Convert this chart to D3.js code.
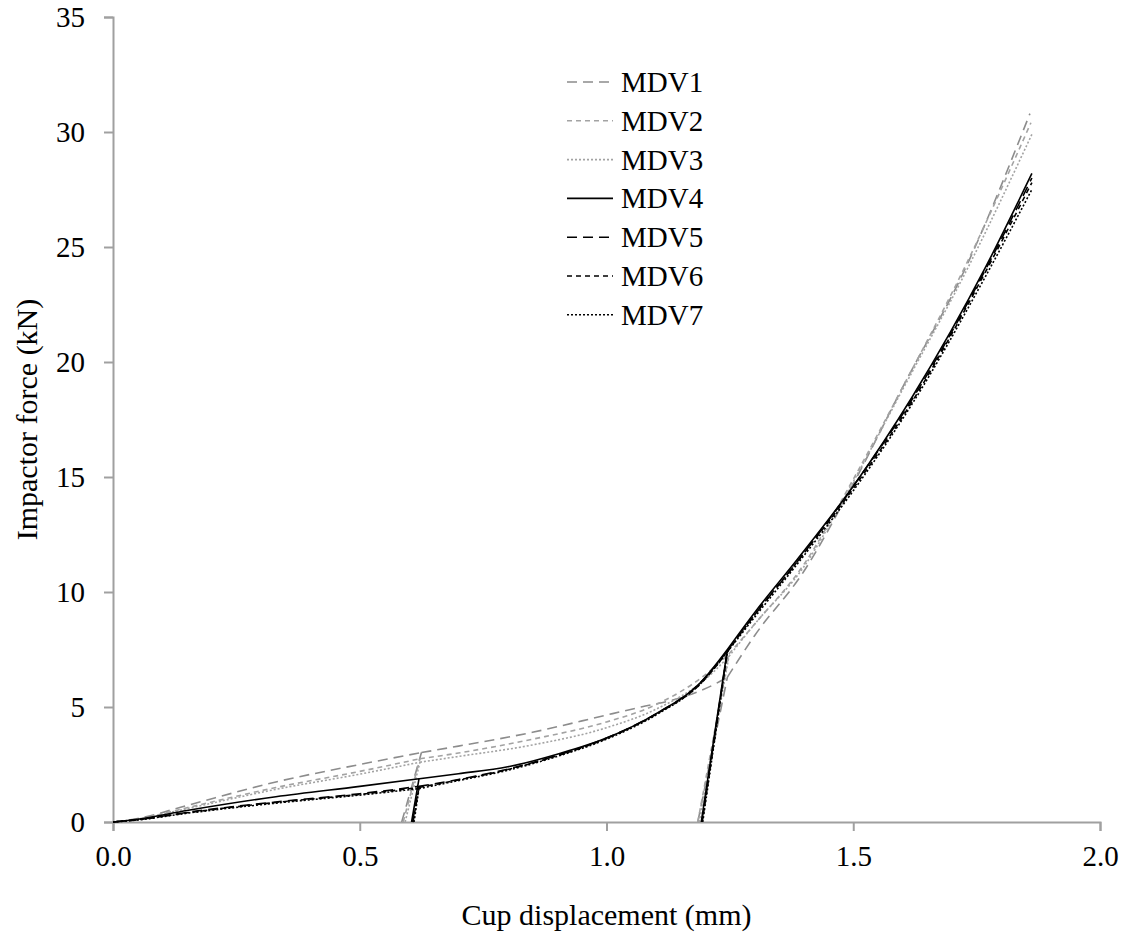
<!DOCTYPE html>
<html>
<head>
<meta charset="utf-8">
<script src="https://cdn.jsdelivr.net/npm/d3@7"></script>
<style>
	body { margin: 0; background: #fff; }
	text { font-family: "Liberation Serif", "Times New Roman", serif; fill: #000; }
</style>
</head>
<body>
<div id="chart-area"></div>
<script>
// DATA
// ****

let names = ["MDV1", "MDV2", "MDV3", "MDV4", "MDV5", "MDV6", "MDV7"]
let xTicks = [0, 0.5, 1.0, 1.5, 2.0]
let yTicks = [0, 5, 10, 15, 20, 25, 30, 35]

// null = break in the line (loading steps, and the steep reload parts)
let disp1 = [0, 0.05, 0.15, 0.33, 0.5, 0.625, null, 0.585, 0.625, null, 0.625, 0.7, 0.85, 1.0, 1.07, 1.15, 1.22, 1.245, null, 1.185, 1.245, null, 1.245, 1.3, 1.4, 1.5, 1.6, 1.73, 1.858]
let force1 = [0, 0.15, 0.72, 1.74, 2.5, 3.02, null, 0, 3.02, null, 3.02, 3.3, 3.9, 4.65, 5.0, 5.4, 6.0, 6.3, null, 0, 6.3, null, 6.3, 8.1, 10.9, 14.7, 18.9, 24.2, 30.8]

let disp2 = [0, 0.05, 0.15, 0.33, 0.5, 0.622, null, 0.588, 0.622, null, 0.622, 0.7, 0.85, 1.0, 1.1, 1.2, 1.248, null, 1.185, 1.248, null, 1.248, 1.3, 1.4, 1.5, 1.6, 1.73, 1.86]
let force2 = [0, 0.13, 0.62, 1.5, 2.2, 2.75, null, 0, 2.75, null, 2.75, 3.0, 3.6, 4.35, 5.1, 6.4, 7.3, null, 0, 7.3, null, 7.3, 8.6, 11.2, 14.9, 18.9, 24.3, 30.4]

let disp3 = [0, 0.05, 0.15, 0.33, 0.5, 0.622, null, 0.592, 0.622, null, 0.622, 0.7, 0.85, 1.0, 1.1, 1.2, 1.248, null, 1.188, 1.248, null, 1.248, 1.3, 1.4, 1.5, 1.6, 1.73, 1.862]
let force3 = [0, 0.12, 0.58, 1.42, 2.08, 2.6, null, 0, 2.6, null, 2.6, 2.85, 3.35, 4.1, 4.9, 6.2, 7.2, null, 0, 7.2, null, 7.2, 8.6, 11.1, 14.8, 18.8, 24.0, 29.9]

let disp4 = [0, 0.05, 0.15, 0.33, 0.5, 0.62, null, 0.605, 0.62, null, 0.62, 0.7, 0.8, 0.9, 1.0, 1.1, 1.19, 1.245, null, 1.192, 1.245, null, 1.245, 1.3, 1.386, 1.5, 1.62, 1.77, 1.862]
let force4 = [0, 0.12, 0.5, 1.1, 1.55, 1.88, null, 0, 1.88, null, 1.88, 2.1, 2.4, 2.95, 3.65, 4.7, 6.05, 7.5, null, 0, 7.5, null, 7.5, 9.1, 11.4, 14.6, 18.5, 24.2, 28.2]

let disp5 = [0, 0.05, 0.15, 0.33, 0.5, 0.62, null, 0.607, 0.62, null, 0.62, 0.7, 0.8, 0.9, 1.0, 1.1, 1.19, 1.245, null, 1.193, 1.245, null, 1.245, 1.3, 1.386, 1.5, 1.62, 1.77, 1.862]
let force5 = [0, 0.1, 0.42, 0.87, 1.23, 1.55, null, 0, 1.55, null, 1.55, 1.85, 2.3, 2.9, 3.65, 4.7, 6.05, 7.45, null, 0, 7.45, null, 7.45, 9.0, 11.3, 14.6, 18.4, 24.1, 28.0]

let disp6 = [0, 0.05, 0.15, 0.33, 0.5, 0.62, null, 0.608, 0.62, null, 0.62, 0.7, 0.8, 0.9, 1.0, 1.1, 1.19, 1.245, null, 1.194, 1.245, null, 1.245, 1.3, 1.386, 1.5, 1.62, 1.77, 1.862]
let force6 = [0, 0.1, 0.4, 0.85, 1.2, 1.5, null, 0, 1.5, null, 1.5, 1.83, 2.28, 2.88, 3.63, 4.68, 6.0, 7.4, null, 0, 7.4, null, 7.4, 9.0, 11.3, 14.5, 18.3, 24.0, 27.8]

let disp7 = [0, 0.05, 0.15, 0.33, 0.5, 0.62, null, 0.61, 0.62, null, 0.62, 0.7, 0.8, 0.9, 1.0, 1.1, 1.19, 1.245, null, 1.195, 1.245, null, 1.245, 1.3, 1.386, 1.5, 1.62, 1.77, 1.862]
let force7 = [0, 0.09, 0.38, 0.82, 1.17, 1.45, null, 0, 1.45, null, 1.45, 1.8, 2.25, 2.85, 3.6, 4.65, 6.0, 7.4, null, 0, 7.4, null, 7.4, 8.9, 11.2, 14.4, 18.2, 23.8, 27.5]

let dispAll = [disp1, disp2, disp3, disp4, disp5, disp6, disp7]
let forceAll = [force1, force2, force3, force4, force5, force6, force7]

// line look per series
let colors = ["#8c8c8c", "#a3a3a3", "#a3a3a3", "#000", "#000", "#000", "#000"]
let dashes = ["10,6", "5,4", "2,2", null, "10,6", "5,4", "2,2"]

// MARGINS & GROUPS
// ****************

let margin = {top: 17, right: 29, bottom: 114, left: 113}
let width = 1129 - margin.left - margin.right
let height = 936 - margin.top - margin.bottom

let svg = d3.select("#chart-area")
	.append("svg")
		.attr("width", 1129)
		.attr("height", 936)

let g = svg.append("g")
	.attr("transform", "translate(" + margin.left + ", " + margin.top + ")")

let x = d3.scaleLinear().domain([0, 2.0]).range([0, width])
let y = d3.scaleLinear().domain([0, 35]).range([height, 0])

// AXES
// ****

let axisColor = "#a0a0a0"

let bottomAxis = d3.axisBottom(x).tickValues(xTicks).tickFormat(d3.format(".1f")).tickSizeOuter(0).tickSize(9).tickPadding(14)
let xg = g.append("g")
	.attr("class", "bottom axis")
	.attr("transform", "translate(0, " + height + ")")
	.call(bottomAxis)

let leftAxis = d3.axisLeft(y).tickValues(yTicks).tickFormat(d3.format("d")).tickSizeOuter(0).tickSize(9).tickPadding(19)
let yg = g.append("g")
	.attr("class", "left axis")
	.call(leftAxis)

;[xg, yg].forEach(a => {
	a.select(".domain").attr("stroke", axisColor).attr("stroke-width", 2)
	a.selectAll(".tick line").attr("stroke", axisColor).attr("stroke-width", 2)
	a.selectAll(".tick text")
		.attr("font-family", "Liberation Serif")
		.attr("font-size", "29px")
		.attr("fill", "#000")
})

// LINES
// *****

let line = d3.line()
	.defined(d => d[0] !== null)
	.x(d => x(d[0]))
	.y(d => y(d[1]))
	.curve(d3.curveMonotoneX)

names.forEach((name, i) => {
	let pts = dispAll[i].map((d, j) => [d, forceAll[i][j]])
	g.append("path")
		.datum(pts)
		.attr("class", "series")
		.attr("fill", "none")
		.attr("stroke", colors[i])
		.attr("stroke-width", 1.6)
		.attr("stroke-dasharray", dashes[i])
		.attr("d", line)
})

// LEGEND
// ******

let legend = svg.append("g")
	.attr("class", "legend")
	.attr("transform", "translate(567, 82)")

names.forEach((name, i) => {
	let row = legend.append("g").attr("transform", "translate(0, " + (i * 38.8) + ")")
	row.append("line")
		.attr("x1", 0)
		.attr("x2", 46)
		.attr("y1", 0)
		.attr("y2", 0)
		.attr("stroke", colors[i])
		.attr("stroke-width", 1.6)
		.attr("stroke-dasharray", dashes[i])
	row.append("text")
		.attr("x", 54)
		.attr("y", 10)
		.attr("font-size", "29px")
		.text(name)
})

// LABELS
// ******

svg.append("text")
	.attr("class", "y axis-label")
	.attr("x", -(margin.top + height / 2))
	.attr("y", 37)
	.attr("font-size", "30px")
	.attr("text-anchor", "middle")
	.attr("transform", "rotate(-90)")
	.text("Impactor force (kN)")

svg.append("text")
	.attr("class", "x axis-label")
	.attr("x", margin.left + width / 2)
	.attr("y", 925)
	.attr("font-size", "30px")
	.attr("text-anchor", "middle")
	.text("Cup displacement (mm)")
</script>
</body>
</html>
